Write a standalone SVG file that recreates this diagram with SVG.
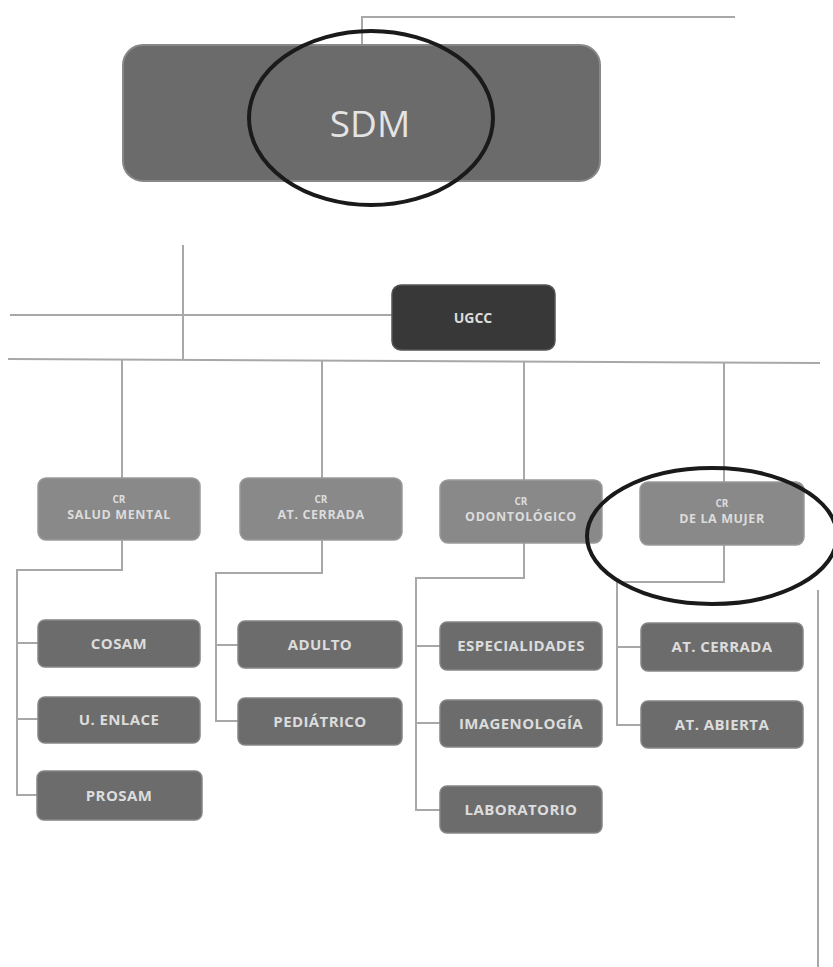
<svg xmlns="http://www.w3.org/2000/svg" width="833" height="967" viewBox="0 0 833 967">
<style>
.ln{fill:none;stroke:#a8a8a8;stroke-width:2}
.b2{fill:#898989;stroke:#9a9a9a;stroke-width:1.5}
.b3{fill:#6c6c6c;stroke:#858585;stroke-width:1.5}
.t{font-family:"Open Sans","Liberation Sans",sans-serif;fill:#dcdcdc;text-anchor:middle;font-weight:bold}
.t1{font-size:10px}
.t2{font-size:12.5px;letter-spacing:0.6px}
.t3{font-size:15px;letter-spacing:0.4px}
.ring{fill:none;stroke:#1a1a1a;stroke-width:4}
</style>
<rect width="833" height="967" fill="#ffffff"/>
<g id="connectors">
<polyline class="ln" points="362,45 362,17 735,17"/>
<line class="ln" x1="183" y1="245" x2="183" y2="360"/>
<line class="ln" x1="10" y1="315" x2="392" y2="315"/>
<line class="ln" x1="8" y1="359" x2="820" y2="363"/>
<line class="ln" x1="122" y1="359" x2="122" y2="478"/>
<line class="ln" x1="322" y1="360" x2="322" y2="478"/>
<line class="ln" x1="524" y1="361" x2="524" y2="480"/>
<line class="ln" x1="724" y1="362" x2="724" y2="482"/>
<polyline class="ln" points="122,540 122,570 17,570 17,795 37,795"/>
<line class="ln" x1="17" y1="643" x2="38" y2="643"/>
<line class="ln" x1="17" y1="719" x2="38" y2="719"/>
<polyline class="ln" points="322,540 322,573 216,573 216,721 238,721"/>
<line class="ln" x1="216" y1="645" x2="238" y2="645"/>
<polyline class="ln" points="524,543 524,578 416,578 416,810 440,810"/>
<line class="ln" x1="416" y1="646" x2="440" y2="646"/>
<line class="ln" x1="416" y1="723" x2="440" y2="723"/>
<polyline class="ln" points="724,545 724,582 617,582 617,725 641,725"/>
<line class="ln" x1="617" y1="647" x2="641" y2="647"/>
<line class="ln" x1="818" y1="590" x2="818" y2="967"/>
</g>
<g id="sdm">
<rect x="123" y="45" width="477" height="136" rx="20" fill="#6b6b6b" stroke="#888" stroke-width="2"/>
<text x="370" y="137" font-family="'Open Sans','Liberation Sans',sans-serif" font-size="37" fill="#e4e4e4" text-anchor="middle">SDM</text>
<ellipse class="ring" cx="371" cy="118" rx="122" ry="87"/>
</g>
<g id="ugcc">
<rect x="392" y="285" width="163" height="65" rx="9" fill="#383838" stroke="#555" stroke-width="1.5"/>
<text class="t" x="473" y="323" font-size="14" font-weight="normal" fill="#bdbdbd">UGCC</text>
</g>
<g id="cr-salud-mental">
<rect class="b2" x="38" y="478" width="162" height="62" rx="8"/>
<text class="t t1" x="119" y="503">CR</text>
<text class="t t2" x="119" y="519">SALUD MENTAL</text>
</g>
<g id="cr-at-cerrada">
<rect class="b2" x="240" y="478" width="162" height="62" rx="8"/>
<text class="t t1" x="321" y="503">CR</text>
<text class="t t2" x="321" y="519">AT. CERRADA</text>
</g>
<g id="cr-odontologico">
<rect class="b2" x="440" y="480" width="162" height="63" rx="8"/>
<text class="t t1" x="521" y="505">CR</text>
<text class="t t2" x="521" y="521">ODONTOLÓGICO</text>
</g>
<g id="cr-de-la-mujer">
<rect class="b2" x="640" y="482" width="164" height="63" rx="8"/>
<text class="t t1" x="722" y="507">CR</text>
<text class="t t2" x="722" y="523">DE LA MUJER</text>
<ellipse class="ring" cx="712" cy="536" rx="125" ry="68"/>
</g>
<g id="cosam"><rect class="b3" x="38" y="620" width="162" height="47" rx="7"/><text class="t t3" x="119" y="649">COSAM</text></g>
<g id="u-enlace"><rect class="b3" x="38" y="697" width="162" height="46" rx="7"/><text class="t t3" x="119" y="725">U. ENLACE</text></g>
<g id="prosam"><rect class="b3" x="37" y="771" width="165" height="49" rx="7"/><text class="t t3" x="119" y="801">PROSAM</text></g>
<g id="adulto"><rect class="b3" x="238" y="621" width="164" height="47" rx="7"/><text class="t t3" x="320" y="650">ADULTO</text></g>
<g id="pediatrico"><rect class="b3" x="238" y="698" width="164" height="47" rx="7"/><text class="t t3" x="320" y="727">PEDIÁTRICO</text></g>
<g id="especialidades"><rect class="b3" x="440" y="622" width="162" height="48" rx="7"/><text class="t t3" x="521" y="651" letter-spacing="0">ESPECIALIDADES</text></g>
<g id="imagenologia"><rect class="b3" x="440" y="700" width="162" height="47" rx="7"/><text class="t t3" x="521" y="729">IMAGENOLOGÍA</text></g>
<g id="laboratorio"><rect class="b3" x="440" y="786" width="162" height="47" rx="7"/><text class="t t3" x="521" y="815">LABORATORIO</text></g>
<g id="at-cerrada"><rect class="b3" x="641" y="623" width="162" height="48" rx="7"/><text class="t t3" x="722" y="652">AT. CERRADA</text></g>
<g id="at-abierta"><rect class="b3" x="641" y="701" width="162" height="47" rx="7"/><text class="t t3" x="722" y="730">AT. ABIERTA</text></g>
</svg>
